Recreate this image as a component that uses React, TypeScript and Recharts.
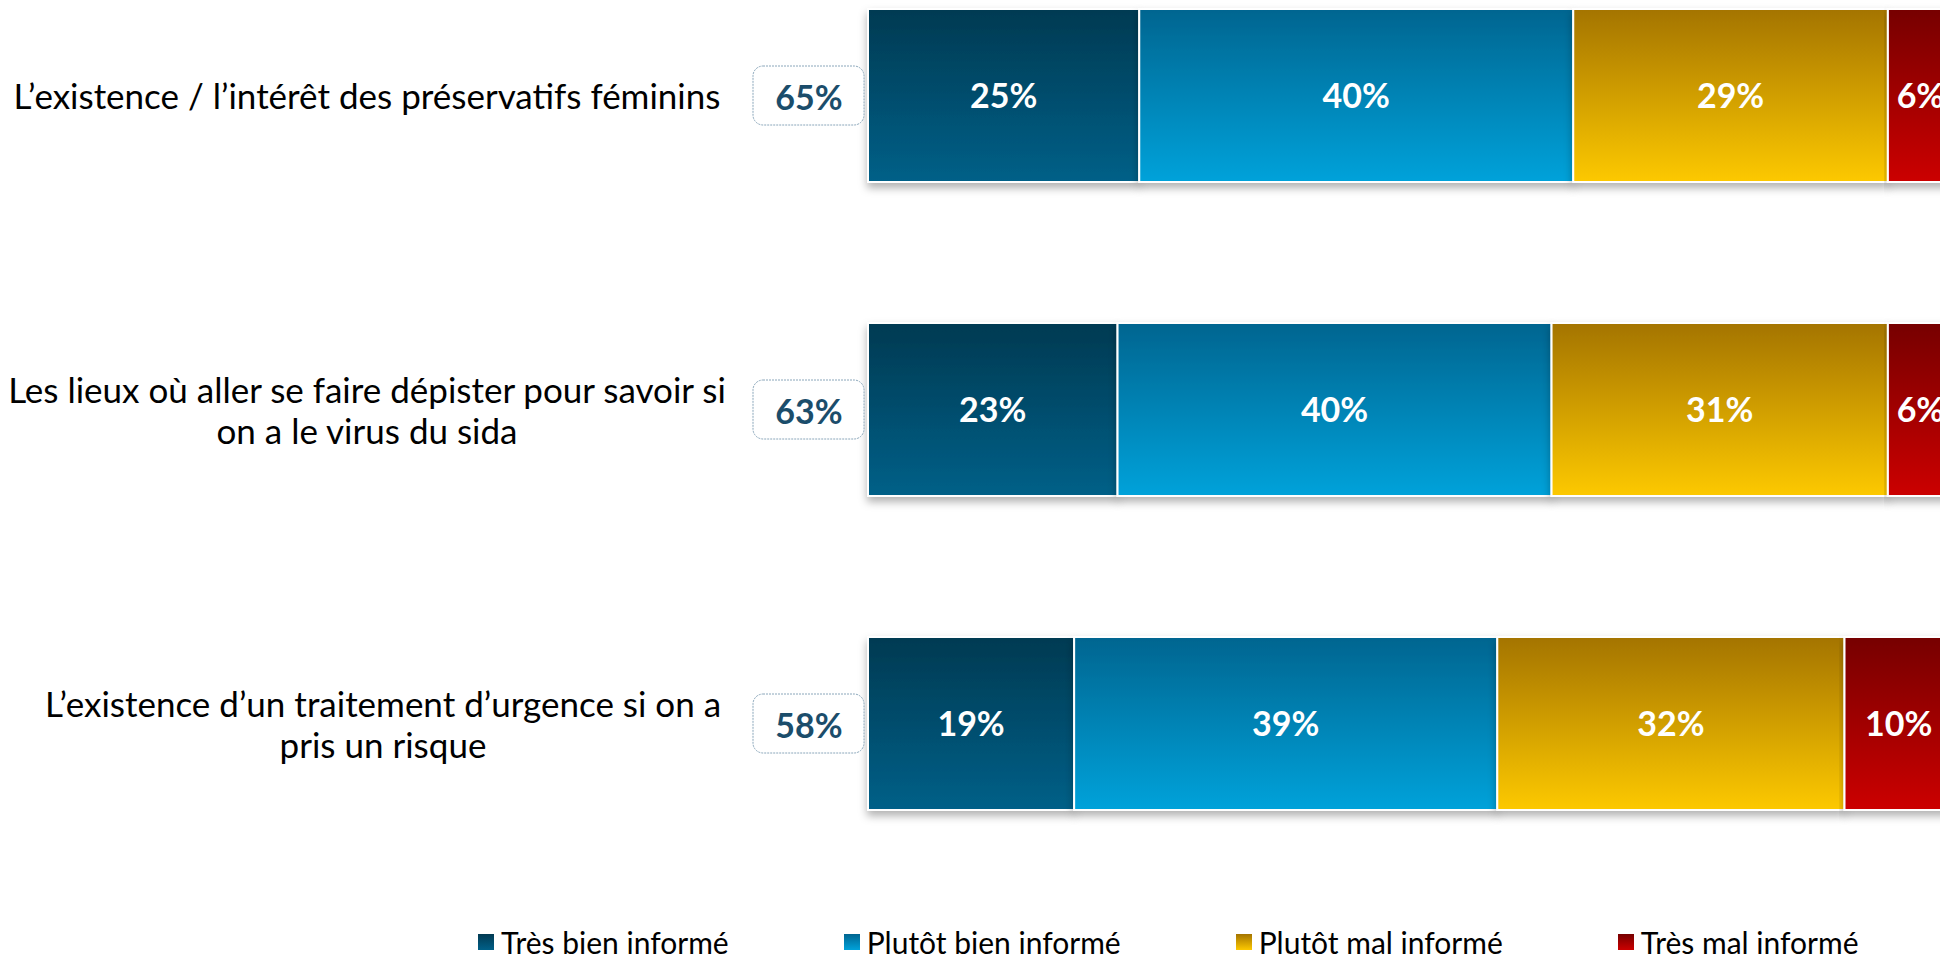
import React from 'react';
import { BarChart, Bar, XAxis, YAxis, LabelList } from 'recharts';

const categories = [
  'L’existence / l’intérêt des préservatifs féminins',
  'Les lieux où aller se faire dépister pour savoir si\non a le virus du sida',
  'L’existence d’un traitement d’urgence si on a\npris un risque',
];
const tresBien = [25, 23, 19];
const plutotBien = [40, 40, 39];
const plutotMal = [29, 31, 32];
const tresMal = [6, 6, 10];
const totals = [65, 63, 58];

const SERIES = [
  { key: 'tresBien', name: 'Très bien informé', top: '#023a52', bottom: '#006088' },
  { key: 'plutotBien', name: 'Plutôt bien informé', top: '#006590', bottom: '#00a2da' },
  { key: 'plutotMal', name: 'Plutôt mal informé', top: '#a47400', bottom: '#fdc900' },
  { key: 'tresMal', name: 'Très mal informé', top: '#760000', bottom: '#cc0000' },
];

const data = categories.map((name, i) => ({
  name,
  total: totals[i],
  tresBien: tresBien[i],
  plutotBien: plutotBien[i],
  plutotMal: plutotMal[i],
  tresMal: tresMal[i],
}));

const FONT = 'Lato, "Open Sans", sans-serif';

// category label on the left plus the dashed "total" box next to the bar
const CategoryTick = (props: any) => {
  const { x, y, payload, index } = props;
  const lines = String(payload.value).split('\n');
  const lh = 41;
  const startY = y - ((lines.length - 1) * lh) / 2;
  const cx = lines.length > 1 && index === 2 ? x - 485 : x - 501;
  return (
    <g>
      <text x={cx} y={startY} textAnchor="middle" dominantBaseline="central" fontSize={35} fill="#000" fontFamily={FONT}>
        {lines.map((l, i) => (
          <tspan key={i} x={cx} y={startY + i * lh}>
            {l}
          </tspan>
        ))}
      </text>
      <rect x={x - 115} y={y - 29} width={111} height={59} rx={10} ry={10} fill="#fff" stroke="#8aa6ba" strokeDasharray="2 1" />
      <text x={x - 59} y={y + 1} textAnchor="middle" dominantBaseline="central" fontSize={34} fontWeight={700} fill="#1b4d6b" fontFamily={FONT}>
        {totals[index]}%
      </text>
    </g>
  );
};

export default function App() {
  return (
    <div style={{ position: 'absolute', left: 0, top: 0, width: 1940, height: 958, overflow: 'hidden', background: '#fff', fontFamily: FONT }}>
      <div style={{ position: 'absolute', left: 0, top: -62 }}>
        <BarChart width={1963} height={942} layout="vertical" data={data} margin={{ top: 0, right: 10, bottom: 0, left: 0 }}>
          <defs>
            {SERIES.map(s => (
              <linearGradient key={s.key} id={`grad-${s.key}`} x1="0" y1="0" x2="0" y2="1">
                <stop offset="0%" stopColor={s.top} />
                <stop offset="100%" stopColor={s.bottom} />
              </linearGradient>
            ))}
            <filter id="shadow" x="-5%" y="-10%" width="110%" height="130%">
              <feDropShadow dx="0" dy="5" stdDeviation="4" floodColor="#000" floodOpacity="0.3" />
            </filter>
          </defs>
          <XAxis type="number" domain={[0, 100]} hide />
          <YAxis
            type="category"
            dataKey="name"
            width={868}
            axisLine={false}
            tickLine={false}
            tickSize={0}
            tickMargin={0}
            interval={0}
            tick={<CategoryTick />}
          />
          {SERIES.map(s => (
            <Bar
              key={s.key}
              dataKey={s.key}
              name={s.name}
              stackId="a"
              barSize={173}
              fill={`url(#grad-${s.key})`}
              stroke="#fff"
              strokeWidth={2}
              filter="url(#shadow)"
              isAnimationActive={false}
            >
              <LabelList
                dataKey={s.key}
                position="center"
                fill="#fff"
                fontSize={34}
                fontWeight={700}
                fontFamily={FONT}
                formatter={(v: any) => `${v}%`}
              />
            </Bar>
          ))}
        </BarChart>
      </div>
      <div style={{ position: 'absolute', left: 478, top: 927, display: 'flex', gap: 115, alignItems: 'center' }}>
        {SERIES.map(s => (
          <div key={s.key} style={{ display: 'flex', alignItems: 'center', gap: 7 }}>
            <span style={{ width: 16, height: 16, background: `linear-gradient(${s.top}, ${s.bottom})`, display: 'inline-block' }} />
            <span style={{ fontSize: 30, color: '#000', lineHeight: '30px' }}>{s.name}</span>
          </div>
        ))}
      </div>
    </div>
  );
}
